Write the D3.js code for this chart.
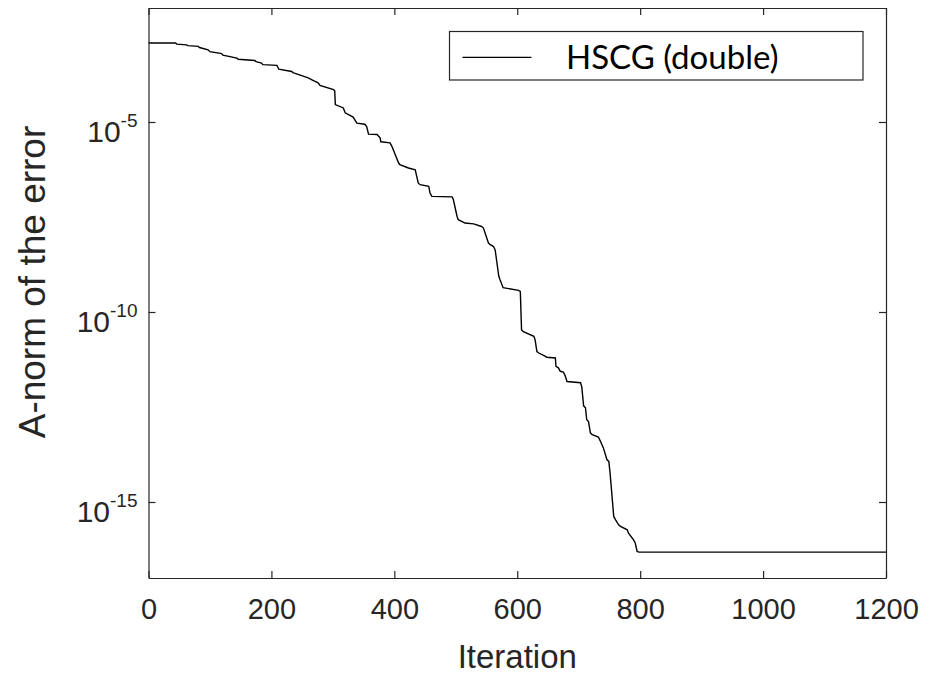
<!DOCTYPE html>
<html>
<head>
<meta charset="utf-8">
<script src="https://cdn.jsdelivr.net/npm/d3@7"></script>
<style>
  body { margin: 0; background: #fff; }
  svg { display: block; }
</style>
</head>
<body>
<svg id="chart"></svg>
<script>
// iteration numbers and A-norm of the error (staircase corners)
const iterations = [
  0, 44, 46, 62, 64, 81, 83, 97, 100, 119, 121, 144, 146, 173, 175, 184, 186, 209, 212, 233,
  235, 260, 266, 276, 279, 301, 303, 304, 317, 320, 333, 339, 352, 355, 358, 372, 377, 378, 393, 396,
  407, 409, 423, 434, 439, 442, 456, 458, 461, 494, 496, 502, 504, 515, 529, 542, 545, 553, 556, 561,
  564, 570, 572, 577, 602, 605, 607, 610, 627, 629, 632, 635, 646, 648, 662, 663, 667, 670, 675, 678,
  681, 703, 705, 708, 711, 713, 716, 719, 722, 732, 735, 740, 746, 749, 751, 757, 760, 765, 768, 779,
  781, 789, 792, 795, 798, 1200
];
const errorNorm = [
  1.20e-3, 1.20e-3, 1.12e-3, 1.07e-3, 1.02e-3, 9.77e-4, 9.12e-4, 7.94e-4, 7.08e-4, 6.31e-4,
  5.75e-4, 4.79e-4, 4.47e-4, 4.17e-4, 3.89e-4, 3.55e-4, 3.24e-4, 3.09e-4, 2.45e-4, 2.14e-4,
  2.00e-4, 1.45e-4, 1.29e-4, 1.07e-4, 9.12e-5, 7.08e-5, 6.61e-5, 2.88e-5, 2.34e-5, 1.74e-5,
  1.35e-5, 9.33e-6, 8.71e-6, 7.59e-6, 4.79e-6, 4.68e-6, 3.80e-6, 3.02e-6, 2.82e-6, 2.29e-6,
  8.32e-7, 7.59e-7, 6.17e-7, 5.50e-7, 2.45e-7, 2.24e-7, 2.04e-7, 1.35e-7, 1.10e-7, 1.07e-7,
  9.12e-8, 3.31e-8, 2.69e-8, 2.19e-8, 2.09e-8, 1.78e-8, 1.62e-8, 6.61e-9, 5.89e-9, 5.37e-9,
  4.37e-9, 8.71e-10, 7.08e-10, 4.37e-10, 3.72e-10, 3.47e-10, 3.39e-11, 3.02e-11, 2.29e-11, 1.86e-11,
  9.12e-12, 8.32e-12, 6.76e-12, 6.46e-12, 6.17e-12, 3.72e-12, 3.39e-12, 2.75e-12, 2.63e-12, 2.09e-12,
  1.48e-12, 1.38e-12, 1.07e-12, 3.39e-13, 3.02e-13, 1.48e-13, 1.29e-13, 6.61e-14, 5.89e-14, 5.13e-14,
  4.07e-14, 2.69e-14, 1.29e-14, 1.17e-14, 5.89e-15, 4.17e-16, 3.39e-16, 2.51e-16, 2.29e-16, 1.86e-16,
  1.51e-16, 1.02e-16, 8.32e-17, 5.01e-17, 4.79e-17, 4.79e-17
];
const xTicks = [0, 200, 400, 600, 800, 1000, 1200];
const yTicks = [1e-15, 1e-10, 1e-5];
const yTickExp = ["-15", "-10", "-5"];
const seriesName = "HSCG (double)";

const width = 932;
const height = 678;
const margin = { top: 8, right: 46, bottom: 100, left: 148.5 };
const innerW = width - margin.left - margin.right;
const innerH = height - margin.top - margin.bottom;
const axisColor = "#262626";
const axisFont = "'Liberation Sans', Arial, Helvetica, sans-serif";

const svg = d3.select("#chart")
    .attr("width", width)
    .attr("height", height);

const g = svg.append("g")
    .attr("transform", `translate(${margin.left}, ${margin.top})`);

const x = d3.scaleLinear()
    .domain([0, 1200])
    .range([0, innerW]);

const y = d3.scaleLog()
    .domain([1e-17, 1e-2])
    .range([innerH, 0]);

const data = iterations.map((it, i) => ({ it: it, v: errorNorm[i] }));

// curve
const line = d3.line()
    .x(d => x(d.it))
    .y(d => y(d.v));

g.append("path")
    .datum(data)
    .attr("fill", "none")
    .attr("stroke", "#000")
    .attr("stroke-width", 1.4)
    .attr("d", line);

// axes (MATLAB box style, ticks inside)
function styleAxis(sel) {
    sel.select(".domain").attr("stroke", axisColor).attr("stroke-width", 1.2);
    sel.selectAll(".tick line").attr("stroke", axisColor).attr("stroke-width", 1.2);
}

const xAxis = g.append("g")
    .attr("transform", `translate(0, ${innerH})`)
    .call(d3.axisBottom(x).tickValues(xTicks).tickFormat(d3.format("d"))
        .tickSizeInner(-7).tickSizeOuter(0).tickPadding(20));
styleAxis(xAxis);
xAxis.selectAll(".tick text")
    .attr("fill", axisColor)
    .style("font-family", axisFont)
    .style("font-size", "29px");

g.append("g")
    .call(d3.axisTop(x).tickValues(xTicks).tickSizeInner(-7).tickSizeOuter(0).tickFormat(""))
    .call(styleAxis);

g.append("g")
    .call(d3.axisLeft(y).tickValues(yTicks).tickSizeInner(-7).tickSizeOuter(0).tickFormat(""))
    .call(styleAxis);

g.append("g")
    .attr("transform", `translate(${innerW}, 0)`)
    .call(d3.axisRight(y).tickValues(yTicks).tickSizeInner(-7).tickSizeOuter(0).tickFormat(""))
    .call(styleAxis);

// y tick labels as 10^n
const yLab = g.selectAll(".ylab")
    .data(yTicks)
    .enter().append("text")
    .attr("class", "ylab")
    .attr("text-anchor", "end")
    .attr("x", -11)
    .attr("y", d => y(d) + 19.5)
    .attr("fill", axisColor)
    .style("font-family", axisFont)
    .style("font-size", "30px");

yLab.append("tspan").text("10");
yLab.append("tspan")
    .attr("dy", -15)
    .style("font-size", "19px")
    .text((d, i) => yTickExp[i]);

// axis titles
svg.append("text")
    .attr("x", margin.left + innerW / 2)
    .attr("y", 668)
    .attr("text-anchor", "middle")
    .attr("fill", axisColor)
    .style("font-family", axisFont)
    .style("font-size", "33px")
    .text("Iteration");

svg.append("text")
    .attr("transform", `translate(45, 282) rotate(-90)`)
    .attr("text-anchor", "middle")
    .attr("fill", axisColor)
    .style("font-family", axisFont)
    .style("font-size", "37px")
    .text("A-norm of the error");

// legend
const legend = svg.append("g");
legend.append("rect")
    .attr("x", 449.5)
    .attr("y", 31.5)
    .attr("width", 413.5)
    .attr("height", 48.5)
    .attr("fill", "#fff")
    .attr("stroke", axisColor)
    .attr("stroke-width", 1.2);
legend.append("line")
    .attr("x1", 462.5)
    .attr("x2", 531.5)
    .attr("y1", 57.3)
    .attr("y2", 57.3)
    .attr("stroke", "#000")
    .attr("stroke-width", 1.3);
legend.append("text")
    .attr("x", 566)
    .attr("y", 68.5)
    .style("font-family", "Lato, 'Open Sans', sans-serif")
    .style("font-size", "33px")
    .attr("fill", "#000")
    .text(seriesName);
</script>
</body>
</html>
